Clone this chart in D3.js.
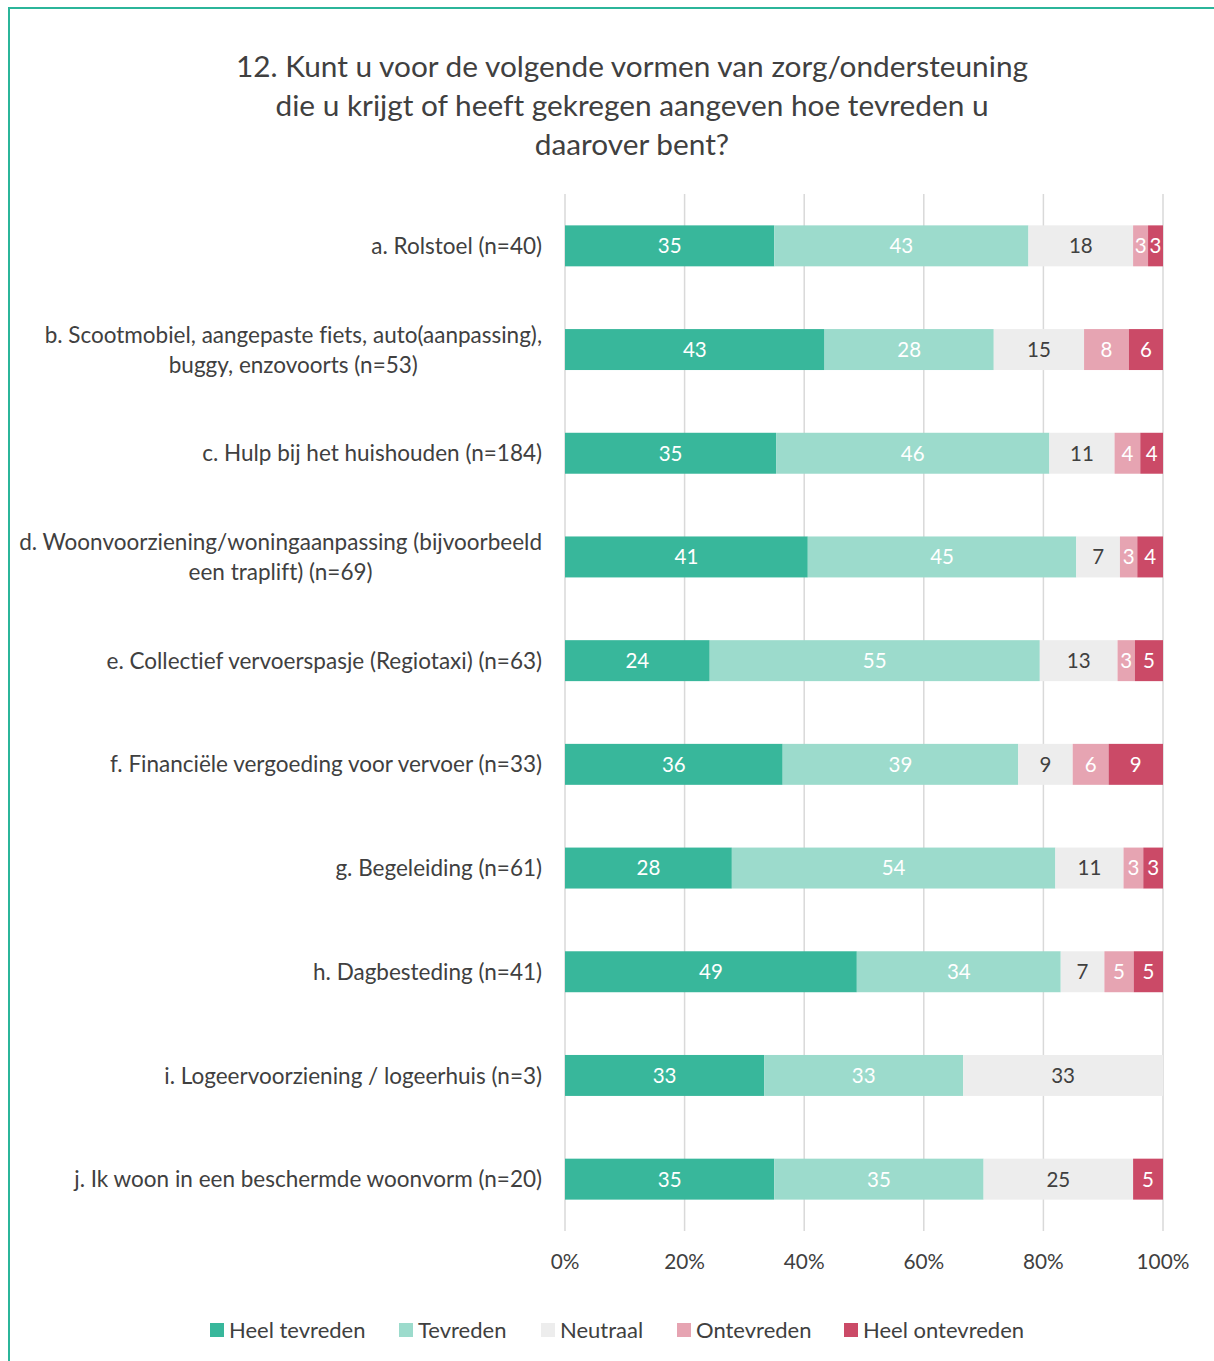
<!DOCTYPE html>
<html><head><meta charset="utf-8">
<script src="https://cdn.jsdelivr.net/npm/d3@7"></script>
<style>body{margin:0;background:#fff}svg{display:block}text{font-family:Lato,"Open Sans",sans-serif;font-variant-ligatures:none}</style>
</head><body>
<script>
const titleLines = ["12. Kunt u voor de volgende vormen van zorg/ondersteuning","die u krijgt of heeft gekregen aangeven hoe tevreden u","daarover bent?"];
const categories = [
  ["a. Rolstoel (n=40)"],
  ["b. Scootmobiel, aangepaste fiets, auto(aanpassing),","buggy, enzovoorts (n=53)"],
  ["c. Hulp bij het huishouden (n=184)"],
  ["d. Woonvoorziening/woningaanpassing (bijvoorbeeld","een traplift) (n=69)"],
  ["e. Collectief vervoerspasje (Regiotaxi) (n=63)"],
  ["f. Financiële vergoeding voor vervoer (n=33)"],
  ["g. Begeleiding (n=61)"],
  ["h. Dagbesteding (n=41)"],
  ["i. Logeervoorziening / logeerhuis (n=3)"],
  ["j. Ik woon in een beschermde woonvorm (n=20)"]
];
const seriesNames = ["Heel tevreden","Tevreden","Neutraal","Ontevreden","Heel ontevreden"];
const heelTevreden   = [35.0, 43.4, 35.3, 40.6, 24.2, 36.4, 27.9, 48.8, 33.3, 35.0];
const tevreden       = [42.5, 28.3, 45.7, 44.9, 55.2, 39.4, 54.1, 34.1, 33.3, 35.0];
const neutraal       = [17.5, 15.1, 10.9, 7.3, 13.0, 9.1, 11.4, 7.3, 33.4, 25.0];
const ontevreden     = [2.5, 7.5, 4.3, 2.9, 2.9, 6.0, 3.3, 4.9, 0, 0];
const heelOntevreden = [2.5, 5.7, 3.8, 4.3, 4.7, 9.1, 3.3, 4.9, 0, 5.0];
const xTicks = [0, 20, 40, 60, 80, 100];

const colors = ["#38b79b","#9cdbcc","#ededed","#e6a4b2","#cb4a67"];
const labelColors = ["#ffffff","#ffffff","#404040","#ffffff","#ffffff"];

const W = 1214, H = 1361;
const svg = d3.select("body").append("svg").attr("width", W).attr("height", H);

// frame
svg.append("path").attr("d", `M9,${H+5} V8 H${W+5}`).attr("fill","none").attr("stroke","#2bb59a").attr("stroke-width",2);

// title
svg.append("g").selectAll("text").data(titleLines).join("text")
  .attr("x", 632).attr("y", (d,i)=>77 + i*39)
  .attr("text-anchor","middle").attr("font-size",29.8).attr("fill","#404040").text(d=>d);

const rows = categories.map((c,i)=>({cat:i, vals:[heelTevreden[i],tevreden[i],neutraal[i],ontevreden[i],heelOntevreden[i]]}));
const table = rows.map(r=>{const o={cat:r.cat}; seriesNames.forEach((s,j)=>o[s]=r.vals[j]); return o;});
const stack = d3.stack().keys(seriesNames)(table);

const x = d3.scaleLinear().domain([0,100]).range([565,1163]);
const y = d3.scaleBand().domain(d3.range(categories.length)).range([194,1231]).paddingInner(0.605).paddingOuter(0.3025);

// gridlines
svg.append("g").selectAll("line").data(xTicks).join("line")
  .attr("x1",d=>x(d)).attr("x2",d=>x(d)).attr("y1",194).attr("y2",1231)
  .attr("stroke","#d9d9d9").attr("stroke-width",1.5);

// bars
const g = svg.append("g");
stack.forEach((s,j)=>{
  g.append("g").selectAll("rect").data(s).join("rect")
    .attr("x",d=>x(d[0])).attr("width",d=>x(d[1])-x(d[0]))
    .attr("y",(d,i)=>y(i)).attr("height",y.bandwidth())
    .attr("fill",colors[j]);
  g.append("g").selectAll("text").data(s.filter(d=>d[1]-d[0]>0)).join("text")
    .attr("x",d=>(x(d[0])+x(d[1]))/2).attr("y",d=>y(d.data.cat)+y.bandwidth()/2)
    .attr("dy","0.36em").attr("text-anchor","middle").attr("font-size",20.5)
    .attr("fill",labelColors[j]).text(d=>Math.round(d[1]-d[0]));
});

// category labels
const lab = svg.append("g");
categories.forEach((lines,i)=>{
  const cy = y(i)+y.bandwidth()/2;
  const gg = lab.append("g");
  const t = gg.selectAll("text").data(lines).join("text")
    .attr("font-size",22.5).attr("fill","#404040")
    .attr("y",(d,k)=>cy + (k-(lines.length-1)/2)*30).attr("dy","0.36em").text(d=>d);
  const widths = t.nodes().map(n=>n.getComputedTextLength());
  const maxW = d3.max(widths);
  t.attr("text-anchor","middle").attr("x", 542 - maxW/2);
});

// x axis labels
svg.append("g").selectAll("text").data(xTicks).join("text")
  .attr("x",d=>x(d)).attr("y",1262).attr("dy","0.36em").attr("text-anchor","middle")
  .attr("font-size",20.8).attr("fill","#404040").text(d=>d+"%");

// legend
const legX = [210,399,541,677,844];
const leg = svg.append("g").selectAll("g").data(seriesNames).join("g")
  .attr("transform",(d,i)=>`translate(${legX[i]},1330)`);
leg.append("rect").attr("x",0).attr("y",-7).attr("width",14).attr("height",14).attr("fill",(d,i)=>colors[i]);
leg.append("text").attr("x",19).attr("dy","0.36em").attr("font-size",22).attr("fill","#404040").text(d=>d);
</script>
</body></html>
